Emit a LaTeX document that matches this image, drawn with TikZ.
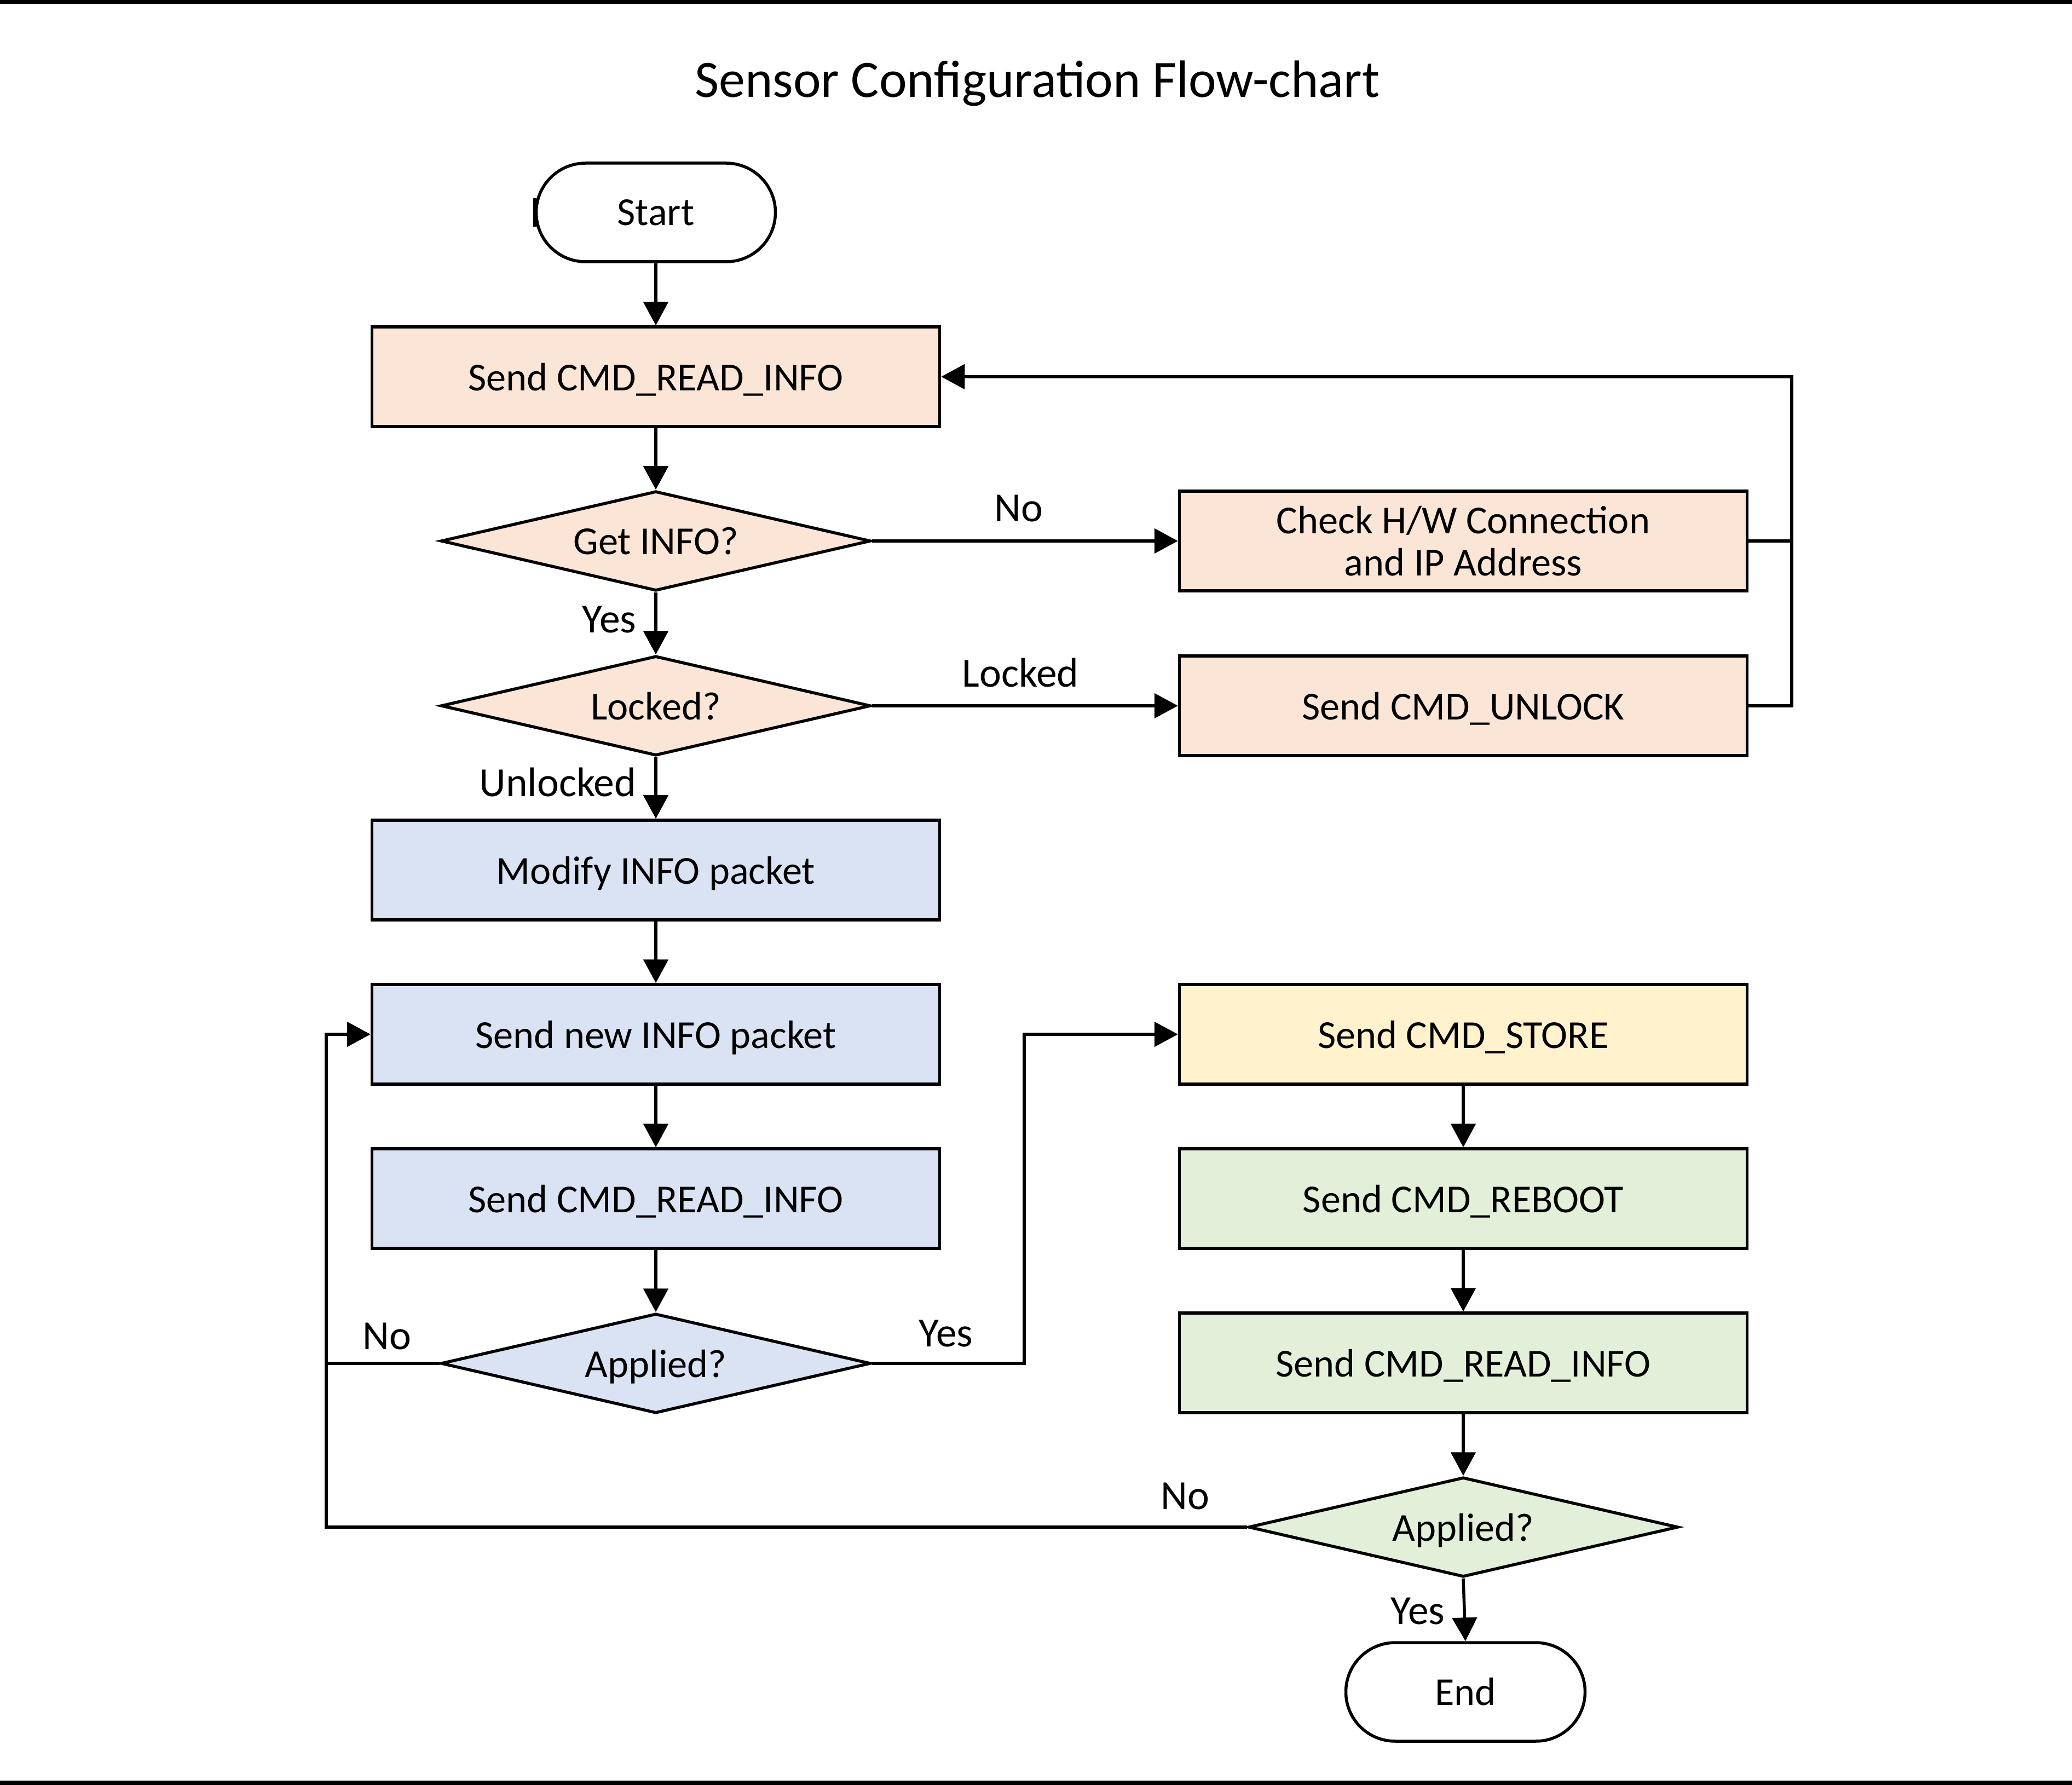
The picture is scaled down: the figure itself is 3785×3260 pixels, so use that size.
\documentclass[tikz,border=0pt]{standalone}
\usepackage{fontspec}
\setmainfont{Carlito}
\usetikzlibrary{shapes.geometric,arrows.meta}
\definecolor{peach}{HTML}{FBE5D6}
\definecolor{lblue}{HTML}{DAE3F3}
\definecolor{lyellow}{HTML}{FFF2CC}
\definecolor{lgreen}{HTML}{E2F0D9}
\begin{document}
\begin{tikzpicture}[x=0.1mm,y=-0.1mm,
 every node/.style={font=\fontsize{20.6}{22}\selectfont},
 box/.style={draw, line width=0.55mm, rectangle, minimum width=103.7mm, minimum height=18.2mm, inner sep=0pt, align=center, text depth=0pt},
 dec/.style={draw, line width=0.55mm, diamond, aspect=4.3, minimum width=78.5mm, minimum height=18.2mm, inner sep=0pt, text depth=0pt},
 term/.style={draw, line width=0.55mm, rectangle, rounded corners=9mm, minimum width=43.7mm, minimum height=18mm, inner sep=0pt, fill=white},
 conn/.style={line width=0.55mm},
 arr/.style={conn, -{Triangle[length=4.3mm,width=4.5mm]}},
 lbl/.style={inner sep=0pt, font=\fontsize{21.5}{24}\selectfont}
]
\useasboundingbox (0,0) rectangle (3785,3260);
\fill (0,0) rectangle (3785,7);
\fill (0,3252) rectangle (3785,3260);

\node[font=\fontsize{27.3}{30}\selectfont] (title) at (1895,152) {Sensor Configuration Flow-chart};

\node[term] (start) at (1198,388) {Start};
\node[box, fill=peach] (b1) at (1198,688) {Send CMD\_READ\_INFO};
\node[dec, fill=peach] (d1) at (1198,988) {Get INFO?};
\node[box, fill=peach] (chk) at (2673,988) {Check H/W Connection\\and IP Address};
\node[dec, fill=peach] (d2) at (1198,1289) {Locked?};
\node[box, fill=peach] (unl) at (2673,1289) {Send CMD\_UNLOCK};
\node[box, fill=lblue] (mod) at (1198,1589) {Modify INFO packet};
\node[box, fill=lblue] (snew) at (1198,1889) {Send new INFO packet};
\node[box, fill=lblue] (rd2) at (1198,2189) {Send CMD\_READ\_INFO};
\node[dec, fill=lblue] (a1) at (1198,2490) {Applied?};
\node[box, fill=lyellow] (store) at (2673,1889) {Send CMD\_STORE};
\node[box, fill=lgreen] (reb) at (2673,2189) {Send CMD\_REBOOT};
\node[box, fill=lgreen] (rd3) at (2673,2489) {Send CMD\_READ\_INFO};
\node[dec, fill=lgreen] (a2) at (2673,2789) {Applied?};
\node[term] (end) at (2677,3090) {End};

\draw[conn] ([yshift=-2.6mm]start.west) -- ([yshift=2.6mm]start.west);

\coordinate (rx) at (3273,688);
\coordinate (lx) at (596,2789);
\coordinate (yx) at (1871,2490);

\draw[arr] (start) -- (b1);
\draw[arr] (b1) -- (d1);
\draw[arr] (d1) -- (chk);
\draw[arr] (d1) -- (d2);
\draw[arr] (d2) -- (unl);
\draw[arr] (d2) -- (mod);
\draw[conn] (chk.east) -- (chk.east -| rx);
\draw[arr] (unl.east) -| (rx) -- (b1.east);
\draw[arr] (mod) -- (snew);
\draw[arr] (snew) -- (rd2);
\draw[arr] (rd2) -- (a1);
\draw[arr] (a1.west) -- (a1.west -| lx) |- (snew.west);
\draw[conn] (a2.west) -- (lx) -- (lx |- a1.west);
\draw[arr] (a1.east) -- (yx) |- (store.west);
\draw[arr] (store) -- (reb);
\draw[arr] (reb) -- (rd3);
\draw[arr] (rd3) -- (a2);
\draw[arr] (a2.south) -- (end.north);

\node[lbl] (lno1) at (1861,929) {No};
\node[lbl] (lyes1) at (1113,1132) {Yes};
\node[lbl] (llock) at (1864,1229) {Locked};
\node[lbl] (lunl) at (1019,1429) {Unlocked};
\node[lbl] (lno2) at (707,2441) {No};
\node[lbl] (lyes2) at (1728,2436) {Yes};
\node[lbl] (lno3) at (2165,2733) {No};
\node[lbl] (lyes3) at (2590,2943) {Yes};
\end{tikzpicture}
\end{document}
